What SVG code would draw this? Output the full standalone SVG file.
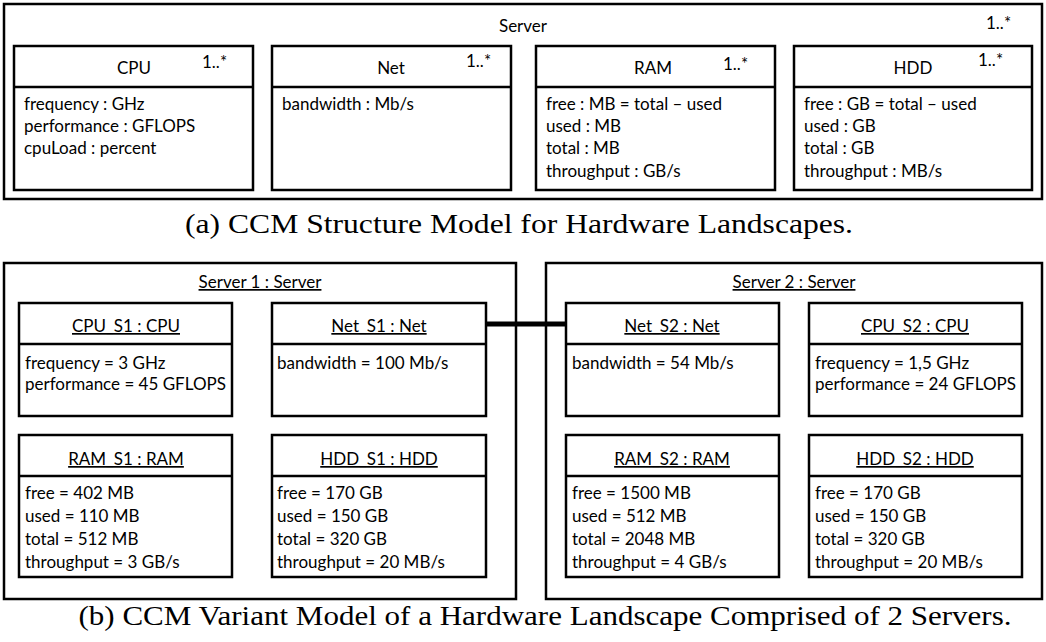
<svg xmlns="http://www.w3.org/2000/svg" width="1046" height="642" viewBox="0 0 1046 642">
<style>
  .frame{fill:#fff;stroke:#000;stroke-width:2.5}
  .box{fill:#fff;stroke:#000;stroke-width:2.5}
  .div{stroke:#000;stroke-width:2.5}
  text{font-family:Lato,"Liberation Sans",sans-serif;font-size:17px;fill:#000}
  .c{text-anchor:middle}
  .u{text-decoration:underline}
  .cap{font-family:"Liberation Serif",serif;font-size:27px;text-anchor:middle}
  .link{stroke:#000;stroke-width:5;fill:none}
</style>
<rect width="1046" height="642" fill="#fff"/>

<!-- (a) Structure model -->
<g id="server">
  <rect class="frame" x="4" y="4" width="1038" height="195"/>
  <text class="c" x="523" y="32">Server</text>
  <text x="986" y="29">1..*</text>
</g>
<g id="cpu">
  <rect class="box" x="14" y="46" width="239" height="144"/>
  <line class="div" x1="14" y1="87" x2="253" y2="87"/>
  <text class="c" x="134" y="74">CPU</text>
  <text x="202" y="68">1..*</text>
  <text x="24" y="110">frequency : GHz</text>
  <text x="24" y="132">performance : GFLOPS</text>
  <text x="24" y="154">cpuLoad : percent</text>
</g>
<g id="net">
  <rect class="box" x="272" y="46" width="239" height="144"/>
  <line class="div" x1="272" y1="87" x2="511" y2="87"/>
  <text class="c" x="391" y="74">Net</text>
  <text x="466" y="67">1..*</text>
  <text x="282" y="110">bandwidth : Mb/s</text>
</g>
<g id="ram">
  <rect class="box" x="536" y="46" width="239" height="144"/>
  <line class="div" x1="536" y1="87" x2="775" y2="87"/>
  <text class="c" x="653" y="74">RAM</text>
  <text x="723" y="70">1..*</text>
  <text x="546" y="110">free : MB = total – used</text>
  <text x="546" y="132">used : MB</text>
  <text x="546" y="154">total : MB</text>
  <text x="546" y="177">throughput : GB/s</text>
</g>
<g id="hdd">
  <rect class="box" x="794" y="46" width="238" height="144"/>
  <line class="div" x1="794" y1="87" x2="1032" y2="87"/>
  <text class="c" x="913" y="74">HDD</text>
  <text x="978" y="66">1..*</text>
  <text x="804" y="110">free : GB = total – used</text>
  <text x="804" y="132">used : GB</text>
  <text x="804" y="154">total : GB</text>
  <text x="804" y="177">throughput : MB/s</text>
</g>
<text class="cap" x="519" y="233" textLength="668" lengthAdjust="spacingAndGlyphs">(a) CCM Structure Model for Hardware Landscapes.</text>

<!-- (b) Variant model -->
<g id="server1">
  <rect class="frame" x="4" y="263" width="512" height="336"/>
  <text class="c u" x="260" y="288">Server 1 : Server</text>
</g>
<g id="server2">
  <rect class="frame" x="546" y="263" width="496" height="336"/>
  <text class="c u" x="794" y="288">Server 2 : Server</text>
</g>

<g id="connectors">
  <line class="link" x1="486" y1="324" x2="566" y2="324"/>
</g>

<g id="cpu_s1">
  <rect class="box" x="19" y="303" width="213" height="113"/>
  <line class="div" x1="19" y1="344" x2="232" y2="344"/>
  <text class="c u" x="126" y="332">CPU_S1 : CPU</text>
  <text x="25" y="369">frequency = 3 GHz</text>
  <text x="25" y="390">performance = 45 GFLOPS</text>
</g>
<g id="net_s1">
  <rect class="box" x="272" y="303" width="214" height="113"/>
  <line class="div" x1="272" y1="344" x2="486" y2="344"/>
  <text class="c u" x="379" y="332">Net_S1 : Net</text>
  <text x="277" y="369">bandwidth = 100 Mb/s</text>
</g>
<g id="ram_s1">
  <rect class="box" x="19" y="435" width="213" height="142"/>
  <line class="div" x1="19" y1="476" x2="232" y2="476"/>
  <text class="c u" x="126" y="465">RAM_S1 : RAM</text>
  <text x="25" y="499">free = 402 MB</text>
  <text x="25" y="522">used = 110 MB</text>
  <text x="25" y="545">total = 512 MB</text>
  <text x="25" y="568">throughput = 3 GB/s</text>
</g>
<g id="hdd_s1">
  <rect class="box" x="272" y="435" width="214" height="142"/>
  <line class="div" x1="272" y1="476" x2="486" y2="476"/>
  <text class="c u" x="379" y="465">HDD_S1 : HDD</text>
  <text x="277" y="499">free = 170 GB</text>
  <text x="277" y="522">used = 150 GB</text>
  <text x="277" y="545">total = 320 GB</text>
  <text x="277" y="568">throughput = 20 MB/s</text>
</g>
<g id="net_s2">
  <rect class="box" x="566" y="303" width="213" height="113"/>
  <line class="div" x1="566" y1="344" x2="779" y2="344"/>
  <text class="c u" x="672" y="332">Net_S2 : Net</text>
  <text x="572" y="369">bandwidth = 54 Mb/s</text>
</g>
<g id="cpu_s2">
  <rect class="box" x="809" y="303" width="213" height="113"/>
  <line class="div" x1="809" y1="344" x2="1022" y2="344"/>
  <text class="c u" x="915" y="332">CPU_S2 : CPU</text>
  <text x="815" y="369">frequency = 1,5 GHz</text>
  <text x="815" y="390">performance = 24 GFLOPS</text>
</g>
<g id="ram_s2">
  <rect class="box" x="566" y="435" width="213" height="142"/>
  <line class="div" x1="566" y1="476" x2="779" y2="476"/>
  <text class="c u" x="672" y="465">RAM_S2 : RAM</text>
  <text x="572" y="499">free = 1500 MB</text>
  <text x="572" y="522">used = 512 MB</text>
  <text x="572" y="545">total = 2048 MB</text>
  <text x="572" y="568">throughput = 4 GB/s</text>
</g>
<g id="hdd_s2">
  <rect class="box" x="809" y="435" width="213" height="142"/>
  <line class="div" x1="809" y1="476" x2="1022" y2="476"/>
  <text class="c u" x="915" y="465">HDD_S2 : HDD</text>
  <text x="815" y="499">free = 170 GB</text>
  <text x="815" y="522">used = 150 GB</text>
  <text x="815" y="545">total = 320 GB</text>
  <text x="815" y="568">throughput = 20 MB/s</text>
</g>
<text class="cap" x="545" y="625" textLength="933" lengthAdjust="spacingAndGlyphs">(b) CCM Variant Model of a Hardware Landscape Comprised of 2 Servers.</text>
</svg>
